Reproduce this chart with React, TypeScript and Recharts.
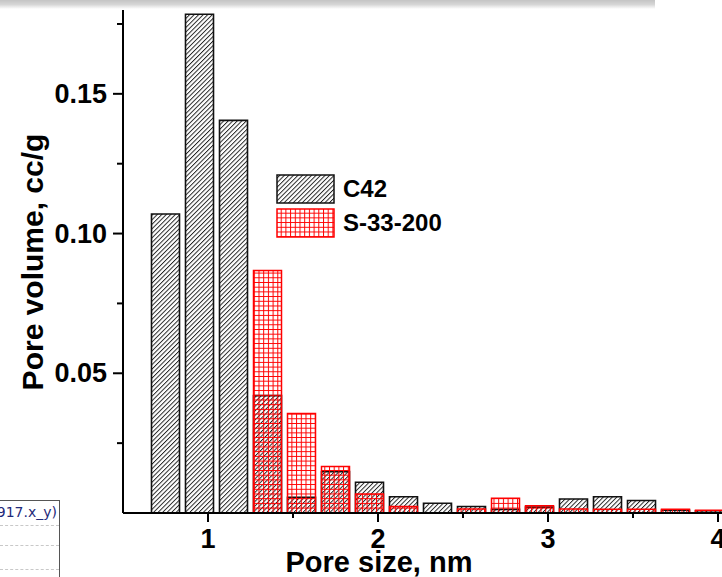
import { Bar, BarChart, Label, Legend, XAxis, YAxis } from "recharts";

// pore size distribution, bin centres in nm
const poreSize = [
  0.75, 0.95, 1.15, 1.35, 1.55, 1.75, 1.95, 2.15, 2.35, 2.55, 2.75, 2.95, 3.15,
  3.35, 3.55, 3.75, 3.95,
];
const c42 = [
  0.107, 0.1785, 0.1405, 0.042, 0.0056, 0.0148, 0.011, 0.0058, 0.0035, 0.0023,
  0.0013, 0.0021, 0.005, 0.0058, 0.0045, 0.001, 0.0008,
];
const s33 = [
  null, null, null, 0.0868, 0.0356, 0.0166, 0.0068, 0.0023, null, 0.0014,
  0.0053, 0.0026, 0.0014, 0.0013, 0.0013, 0.0013, 0.001,
];

const seriesNames = ["C42", "S-33-200"];
const xMajor = [1, 2, 3, 4];
const xMinor = [1.5, 2.5, 3.5];
const yMajor = [0.05, 0.1, 0.15];
const yMinor = [0.025, 0.075, 0.125, 0.175];

const data = poreSize.map((x, i) => ({ x, c42: c42[i], s33: s33[i] }));

const FONT = "'Liberation Sans', Arial, sans-serif";
const xTicks = [...xMajor, ...xMinor].sort((a, b) => a - b);
const yTicks = [...yMajor, ...yMinor].sort((a, b) => a - b);

function XTick({ x, y, payload }: any) {
  const major = xMajor.includes(payload.value);
  return (
    <g>
      <line x1={x} y1={y} x2={x} y2={y + (major ? 9 : 5)} stroke="#000" strokeWidth={2} />
      {major && (
        <text x={x} y={y + 35} textAnchor="middle" fontFamily={FONT} fontWeight="bold" fontSize={27} fill="#000">
          {payload.value}
        </text>
      )}
    </g>
  );
}

function YTick({ x, y, payload }: any) {
  const major = yMajor.includes(payload.value);
  return (
    <g>
      <line x1={x - (major ? 10 : 6)} y1={y} x2={x} y2={y} stroke="#000" strokeWidth={2} />
      {major && (
        <text x={x - 16} y={y + 9} textAnchor="end" fontFamily={FONT} fontWeight="bold" fontSize={27} fill="#000">
          {payload.value.toFixed(2)}
        </text>
      )}
    </g>
  );
}

function HatchDefs({ prefix }: { prefix: string }) {
  return (
    <defs>
      <pattern id={`${prefix}Hatch`} patternUnits="userSpaceOnUse" width={3.2} height={3.2} patternTransform="rotate(45)">
        <line x1={0.5} y1={0} x2={0.5} y2={3.2} stroke="#111" strokeWidth={0.9} />
      </pattern>
      <pattern id={`${prefix}Grid`} patternUnits="userSpaceOnUse" width={4.7} height={4.7}>
        <path d="M0 0.5H4.7M0.5 0V4.7" stroke="#ff0000" strokeWidth={1} fill="none" />
      </pattern>
    </defs>
  );
}

function LegendBox() {
  const rows = [
    { name: seriesNames[0], fill: "url(#lgHatch)", stroke: "#111" },
    { name: seriesNames[1], fill: "url(#lgGrid)", stroke: "#ff0000" },
  ];
  return (
    <div style={{ position: "relative", width: 200, height: 64 }}>
      <svg width={0} height={0} style={{ position: "absolute" }}>
        <HatchDefs prefix="lg" />
      </svg>
      {rows.map((r, i) => (
        <div key={r.name} style={{ position: "absolute", left: 0, top: i * 34, display: "flex", alignItems: "center" }}>
          <svg width={59} height={30}>
            <rect x={1} y={1} width={57} height={28} fill={r.fill} stroke={r.stroke} strokeWidth={1.5} />
          </svg>
          <span style={{ marginLeft: 8, fontFamily: FONT, fontWeight: "bold", fontSize: 24, color: "#000" }}>{r.name}</span>
        </div>
      ))}
    </div>
  );
}

export default function App() {
  return (
    <div style={{ position: "absolute", left: 0, top: 0, width: 722, height: 577, overflow: "hidden", background: "#fff" }}>
      {/* grey strip along the top edge */}
      <div style={{ position: "absolute", left: 0, top: 0, width: 655, height: 9, background: "linear-gradient(#c4c4c4, #d6d6d6 50%, #fff)" }} />
      <BarChart width={820} height={577} data={data} margin={{ top: 10, right: 17, bottom: 24, left: 43 }}>
        <HatchDefs prefix="bar" />
        <XAxis
          xAxisId="c"
          type="number"
          dataKey="x"
          domain={[0.5, 4.5]}
          allowDataOverflow
          ticks={xTicks}
          interval={0}
          tick={XTick}
          tickSize={0}
          tickMargin={0}
          tickLine={false}
          axisLine={{ stroke: "#000", strokeWidth: 2 }}
          height={40}
        >
          <Label
            content={() => (
              <text x={379} y={572} textAnchor="middle" fontFamily={FONT} fontWeight="bold" fontSize={29} fill="#000">
                Pore size, nm
              </text>
            )}
          />
        </XAxis>
        <XAxis xAxisId="s" type="number" dataKey="x" domain={[0.5, 4.5]} allowDataOverflow hide />
        <YAxis
          type="number"
          domain={[0, 0.18]}
          allowDataOverflow
          ticks={yTicks}
          interval={0}
          tick={YTick}
          tickSize={0}
          tickMargin={0}
          tickLine={false}
          axisLine={{ stroke: "#000", strokeWidth: 2 }}
          width={80}
        >
          <Label
            content={() => (
              <text x={43} y={262} transform="rotate(-90 43 262)" textAnchor="middle" fontFamily={FONT} fontWeight="bold" fontSize={30} fill="#000">
                Pore volume, cc/g
              </text>
            )}
          />
        </YAxis>
        <Bar xAxisId="c" dataKey="c42" name={seriesNames[0]} fill="url(#barHatch)" stroke="#111" strokeWidth={1.6} barSize={28} isAnimationActive={false} />
        <Bar xAxisId="s" dataKey="s33" name={seriesNames[1]} fill="url(#barGrid)" stroke="#ff0000" strokeWidth={1.5} barSize={28} isAnimationActive={false} />
        <Legend layout="horizontal" verticalAlign="middle" align="center" wrapperStyle={{ left: 276, top: 174, width: 200, height: 64 }} content={() => <LegendBox />} />
      </BarChart>
      {/* corner of a neighbouring window */}
      <div style={{ position: "absolute", left: 0, top: 500, width: 59, height: 80, borderTop: "1px solid #555", borderRight: "1px solid #555", background: "#fff", overflow: "hidden" }}>
        <div style={{ position: "absolute", right: 2, top: 3, fontFamily: "'DejaVu Sans', sans-serif", fontSize: 14, color: "#1f2a7a", whiteSpace: "nowrap" }}>917.x_y)</div>
        <div style={{ position: "absolute", left: 0, right: 0, top: 24, borderTop: "1px dashed #c8c8c8" }} />
        <div style={{ position: "absolute", left: 0, right: 0, top: 44, borderTop: "1px dashed #c8c8c8" }} />
        <div style={{ position: "absolute", left: 0, right: 0, top: 68, borderTop: "1px dashed #c8c8c8" }} />
      </div>
    </div>
  );
}
